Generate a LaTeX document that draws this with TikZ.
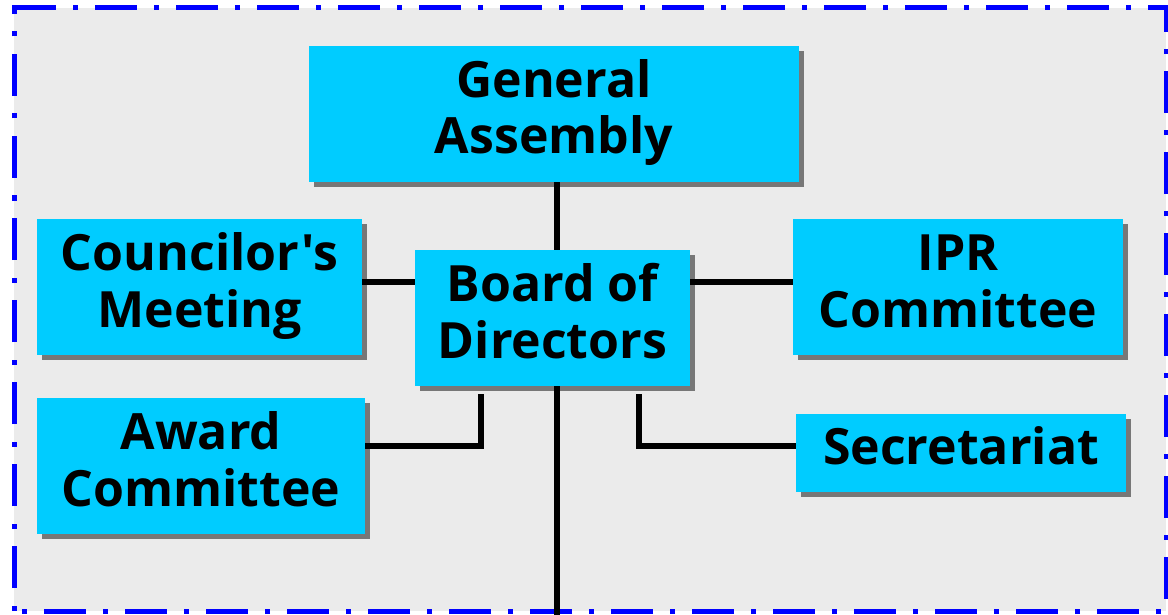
\documentclass[tikz,border=0pt]{standalone}
\usepackage{fontspec}
\setmainfont{Open Sans}[Ligatures=TeXOff]
\usetikzlibrary{shadows}
\definecolor{boxcyan}{HTML}{00CCFF}
\definecolor{bggray}{HTML}{EBEBEB}
\definecolor{shgray}{HTML}{777777}
\definecolor{bordblue}{HTML}{0000FF}
\newcommand{\twolines}[2]{\raisebox{17pt}[0pt][0pt]{\begin{tabular}[t]{@{}c@{}}#1\\#2\end{tabular}}}
\newcommand{\oneline}[1]{\raisebox{-11pt}[0pt][0pt]{#1}}
\tikzset{
  orgbox/.style={rectangle, fill=boxcyan, inner sep=0pt, align=center,
    minimum height=136pt, font=\fontsize{50}{57}\selectfont\bfseries,
    drop shadow={shadow xshift=5pt, shadow yshift=-5pt, fill=shgray, opacity=1}},
  link/.style={line width=5.5pt, black},
  frameline/.style={bordblue, line width=5pt}
}
\begin{document}
\begin{tikzpicture}[x=1pt,y=-1pt]
\useasboundingbox (0,0) rectangle (1168,615);
\fill[white] (0,0) rectangle (1168,615);
\fill[bggray] (14,8) rectangle (1166,611);
\draw[frameline, dash pattern=on 42pt off 17pt on 5pt off 17pt]
  (14,8) -- (1166,8) -- (1166,611) -- (14,611);
\draw[frameline, dash pattern=on 42pt off 17.5pt on 5pt off 17.5pt, dash phase=59pt]
  (14,611) -- (14,5.5);

\coordinate (vx) at (557,0);
\coordinate (bottom) at (557,615);
\coordinate (awl) at (481,446);
\coordinate (awt) at (481,394);
\coordinate (sel) at (639,446);
\coordinate (set) at (639,394);
\coordinate (midy) at (0,282);

\node[orgbox, minimum width=490pt] (ga) at (554,114) {\twolines{General}{Assembly}};
\node[orgbox, minimum width=275pt] (bd) at (552.5,318) {\twolines{Board of}{Directors}};
\node[orgbox, minimum width=325pt] (cm) at (199.5,287) {\twolines{Councilor's}{Meeting}};
\node[orgbox, minimum width=330pt] (ipr) at (958,287) {\twolines{IPR}{Committee}};
\node[orgbox, minimum width=328pt] (aw) at (201,466) {\twolines{Award}{Committee}};
\node[orgbox, minimum width=330pt, minimum height=78pt] (sec) at (961,453) {\oneline{Secretariat}};

\draw[link] (ga.south -| vx) -- (bd.north -| vx);
\draw[link] (bd.south -| vx) -- (bottom);
\draw[link] (cm.east |- midy) -- (bd.west |- midy);
\draw[link] (bd.east |- midy) -- (ipr.west |- midy);
\draw[link] (aw.east |- awl) -- (awl) -- (awt);
\draw[link] (sec.west |- sel) -- (sel) -- (set);
\end{tikzpicture}
\end{document}
